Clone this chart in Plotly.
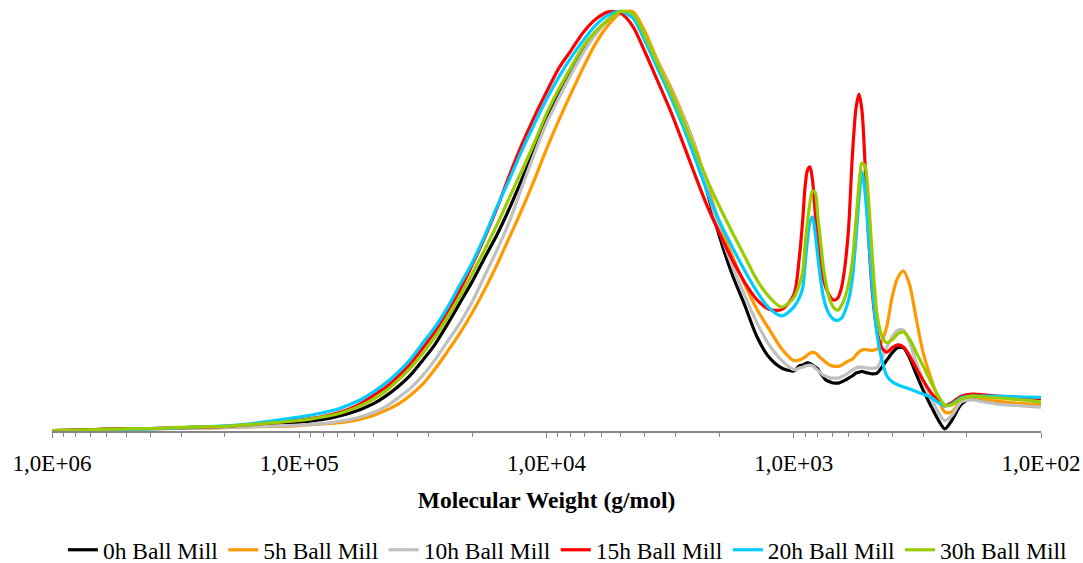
import plotly.graph_objects as go

# Molecular weight grid (g/mol) shared by all GPC traces
mw = [1000000, 794000, 631000, 501000, 398000, 316000, 251000, 200000, 158000, 126000,
      100000, 89100, 79400, 70800, 63100, 56200, 50100, 44700, 39800, 35500,
      31600, 28200, 25100, 22400, 20000, 17800, 15800, 14100, 12600, 11200,
      10000, 8910, 7940, 7080, 6310, 5620, 5010, 4470, 3980, 3550,
      3160, 2820, 2510, 2240, 2000, 1780, 1580, 1410, 1260, 1120,
      1000, 950, 920, 900, 880, 860, 840, 820, 800, 780,
      760, 740, 720, 700, 680, 660, 640, 620, 600, 580,
      560, 545, 530, 515, 500, 480, 460, 440, 420, 400,
      380, 360, 340, 320, 300, 280, 260, 245, 230, 210,
      190, 170, 150, 120, 100]

# Normalised detector response (main peak = 100)
mill_0h = [0.1, 0.2, 0.4, 0.5, 0.6, 0.7, 0.9, 1.0, 1.3, 1.7,
           2.1, 2.4, 2.8, 3.4, 4.2, 5.2, 6.5, 8.3, 10.6, 13.3,
           16.9, 20.7, 25.5, 30.5, 35.5, 41.2, 46.9, 53.1, 59.8, 66.9,
           74.3, 81.0, 86.0, 90.5, 94.8, 97.9, 99.8, 99.0, 94.0, 87.6,
           81.7, 75.2, 67.6, 57.0, 46.5, 37.5, 30.0, 22.5, 17.6, 15.0,
           14.3, 15.5, 15.7, 16.0, 16.2, 16.1, 15.7, 15.2, 14.8, 13.8,
           12.9, 12.1, 11.8, 11.5, 11.4, 11.4, 11.7, 12.1, 12.6, 13.1,
           13.8, 14.0, 14.2, 14.0, 13.8, 13.6, 13.8, 15.2, 16.9, 18.6,
           19.8, 19.8, 17.4, 13.6, 9.8, 6.2, 2.6, 0.5, 2.4, 6.4,
           7.9, 7.4, 6.9, 6.4, 6.2]

mill_5h = [0.1, 0.1, 0.2, 0.4, 0.5, 0.6, 0.7, 0.8, 1.0, 1.1,
           1.3, 1.5, 1.7, 1.9, 2.3, 2.9, 3.7, 4.9, 6.4, 8.5,
           11.2, 14.8, 19.0, 23.3, 28.1, 33.6, 39.8, 46.2, 52.6, 59.8,
           67.1, 74.0, 80.5, 86.7, 92.4, 96.7, 99.5, 99.8, 94.8, 88.1,
           82.1, 75.5, 67.9, 58.8, 49.5, 42.0, 35.0, 29.0, 24.3, 19.6,
           16.8, 16.9, 17.3, 17.6, 18.1, 18.5, 18.7, 18.6, 18.1, 17.4,
           16.9, 16.3, 15.8, 15.5, 15.4, 15.4, 15.7, 16.2, 16.7, 17.1,
           18.1, 18.8, 19.3, 19.4, 19.3, 19.2, 19.5, 21.4, 25.0, 31.9,
           36.4, 38.1, 34.8, 26.9, 18.8, 12.9, 7.6, 4.5, 4.5, 7.1,
           8.1, 7.6, 7.1, 6.5, 6.2]

mill_10h = [0.1, 0.1, 0.2, 0.4, 0.5, 0.6, 0.7, 0.8, 1.0, 1.2,
            1.4, 1.6, 1.8, 2.2, 2.7, 3.4, 4.4, 5.8, 7.9, 10.2,
            13.3, 17.0, 21.4, 25.7, 30.7, 36.9, 43.3, 50.0, 57.9, 66.0,
            73.3, 79.3, 85.0, 90.2, 94.5, 97.9, 99.8, 99.0, 93.8, 87.6,
            81.4, 75.0, 67.4, 57.5, 47.8, 39.6, 32.3, 25.8, 20.6, 16.8,
            14.6, 15.0, 15.2, 15.5, 15.6, 15.7, 15.5, 15.0, 14.5, 13.9,
            13.3, 13.0, 12.7, 12.6, 12.6, 12.6, 12.9, 13.3, 13.9, 14.5,
            15.0, 15.2, 15.2, 15.1, 15.0, 14.9, 15.2, 17.4, 20.0, 22.4,
            24.0, 24.0, 21.2, 16.4, 12.1, 8.1, 4.5, 2.4, 3.6, 6.9,
            7.4, 6.9, 6.4, 6.0, 5.7]

mill_15h = [0.1, 0.2, 0.4, 0.5, 0.6, 0.7, 0.9, 1.1, 1.5, 2.0,
            2.6, 3.0, 3.5, 4.2, 5.2, 6.6, 8.5, 10.4, 13.0, 16.0,
            19.8, 23.7, 28.6, 33.6, 39.5, 46.0, 53.3, 61.0, 68.1, 74.8,
            80.7, 86.4, 90.7, 95.0, 98.1, 99.8, 99.5, 96.3, 90.0, 83.3,
            76.4, 68.9, 61.0, 53.6, 47.2, 41.0, 35.4, 31.3, 29.0, 28.9,
            32.4, 41.2, 50.2, 58.1, 62.1, 62.9, 59.8, 52.4, 45.5, 40.2,
            36.4, 34.0, 32.4, 31.4, 31.2, 31.9, 34.3, 39.5, 48.3, 65.0,
            76.9, 80.2, 76.4, 63.8, 47.9, 32.4, 23.6, 19.8, 18.8, 19.8,
            20.5, 20.0, 17.9, 15.0, 12.1, 9.3, 7.1, 6.0, 6.7, 8.3,
            8.8, 8.6, 8.3, 8.0, 7.7]

mill_20h = [0.0, 0.1, 0.2, 0.4, 0.5, 0.7, 1.0, 1.2, 1.7, 2.5,
            3.3, 3.8, 4.4, 5.1, 6.2, 7.5, 9.3, 11.4, 14.0, 17.1,
            21.0, 24.8, 29.5, 34.8, 40.0, 46.4, 53.6, 60.0, 66.7, 73.1,
            79.0, 84.3, 89.0, 93.1, 96.7, 99.0, 99.9, 98.3, 92.6, 86.2,
            79.8, 72.9, 65.0, 57.0, 50.0, 44.0, 38.2, 33.2, 29.3, 27.4,
            29.5, 31.7, 34.0, 39.5, 45.5, 49.8, 51.0, 47.4, 41.7, 36.4,
            32.1, 29.5, 27.9, 26.9, 26.4, 26.4, 26.9, 28.6, 31.2, 36.0,
            46.0, 55.0, 61.7, 56.9, 47.4, 33.6, 22.9, 16.9, 13.1, 11.7,
            11.0, 10.5, 10.0, 9.4, 8.8, 8.1, 6.7, 6.0, 6.4, 7.9,
            8.3, 8.3, 8.3, 8.1, 8.0]

mill_30h = [0.1, 0.2, 0.4, 0.5, 0.6, 0.8, 1.0, 1.1, 1.5, 2.0,
            2.5, 2.9, 3.4, 4.0, 4.9, 6.1, 7.6, 9.5, 12.1, 15.0,
            18.6, 22.4, 27.1, 32.1, 37.4, 43.1, 49.3, 55.7, 61.9, 68.6,
            75.5, 81.4, 86.7, 91.7, 95.2, 97.9, 99.9, 99.3, 93.8, 87.4,
            81.0, 74.3, 66.9, 59.8, 53.5, 47.5, 41.6, 36.0, 32.0, 29.5,
            31.7, 34.8, 37.9, 44.3, 49.8, 54.3, 57.1, 56.9, 51.4, 45.5,
            39.3, 35.0, 31.9, 30.0, 29.0, 28.8, 30.0, 31.9, 35.0, 40.2,
            50.2, 58.6, 63.8, 63.1, 56.2, 40.7, 27.6, 22.6, 21.0, 21.7,
            23.1, 23.6, 21.9, 18.8, 15.5, 11.9, 8.3, 6.2, 6.2, 7.6,
            8.3, 8.1, 7.9, 7.4, 6.9]

series_names = ["0h Ball Mill", "5h Ball Mill", "10h Ball Mill",
                "15h Ball Mill", "20h Ball Mill", "30h Ball Mill"]
series_values = [mill_0h, mill_5h, mill_10h, mill_15h, mill_20h, mill_30h]
series_colors = ["#000000", "#FF9900", "#C0C0C0", "#FF0000", "#00CCFF", "#99CC00"]

tick_vals = [1e6, 1e5, 1e4, 1e3, 1e2]
tick_text = ["1,0E+06", "1,0E+05", "1,0E+04", "1,0E+03", "1,0E+02"]

SERIF = "Liberation Serif"

fig = go.Figure()
for name, vals, col in zip(series_names, series_values, series_colors):
    fig.add_trace(go.Scatter(
        x=mw, y=vals, name=name, mode="lines",
        line=dict(color=col, width=3.2, shape="spline", smoothing=0.8),
    ))

# minor ticks at 2..9 x 10^n on the log axis
minor_vals = [m * 10 ** e for e in range(2, 6) for m in range(2, 10)]

fig.update_xaxes(
    type="log", range=[6, 2],
    tickmode="array", tickvals=tick_vals, ticktext=tick_text,
    ticks="outside", ticklen=5, tickwidth=1, tickcolor="#868686",
    ticklabelstandoff=6,
    showline=True, linecolor="#868686", linewidth=1.5,
    showgrid=False, zeroline=False,
    tickfont=dict(family=SERIF, size=23, color="#000000"),
    minor=dict(tickmode="array", tickvals=minor_vals, ticks="outside",
               ticklen=4, tickwidth=1, tickcolor="#868686", showgrid=False),
    title=dict(text="<b>Molecular Weight (g/mol)</b>",
               font=dict(family=SERIF, size=23.5, color="#000000"), standoff=16),
)
fig.update_yaxes(visible=False, range=[0, 101.9], showgrid=False, zeroline=False)

# legend anchored just left of the plot area so it may span the full width on one row;
# a transparent border pads the entries away from the left edge
fig.update_layout(
    width=1083, height=563,
    margin=dict(l=52, r=42, t=3, b=132, autoexpand=False),
    paper_bgcolor="#FFFFFF", plot_bgcolor="#FFFFFF",
    font=dict(family=SERIF),
    showlegend=True,
    legend=dict(orientation="h", x=-0.0001, xanchor="left", y=-0.278, yanchor="middle",
                font=dict(family=SERIF, size=23.5, color="#000000"),
                bgcolor="rgba(0,0,0,0)", bordercolor="rgba(0,0,0,0)", borderwidth=11,
                traceorder="normal"),
)

fig.write_html("out.html")
